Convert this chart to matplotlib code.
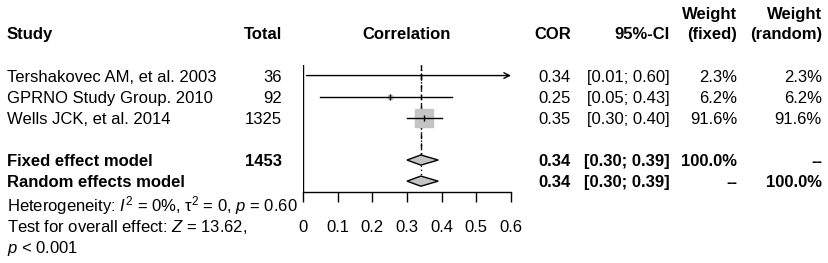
import numpy as np
import matplotlib
matplotlib.use('Agg')
import matplotlib.pyplot as plt
from matplotlib import transforms

plt.rcParams['font.family'] = ['Liberation Sans', 'DejaVu Sans']
plt.rcParams['mathtext.fontset'] = 'custom'
plt.rcParams['mathtext.rm'] = 'Liberation Sans'
plt.rcParams['mathtext.it'] = 'Liberation Sans:italic'
plt.rcParams['mathtext.bf'] = 'Liberation Sans:bold'

# Study data
studies = ["Tershakovec AM, et al. 2003", "GPRNO Study Group. 2010", "Wells JCK, et al. 2014"]
totals = [36, 92, 1325]
cor = [0.34, 0.25, 0.35]
ci_lo = [0.01, 0.05, 0.30]
ci_hi = [0.60, 0.43, 0.40]
w_fixed = [2.3, 6.2, 91.6]
w_random = [2.3, 6.2, 91.6]

# Pooled estimates
fixed_total = 1453
fixed_est, fixed_lo, fixed_hi = 0.34, 0.30, 0.39
random_est, random_lo, random_hi = 0.34, 0.30, 0.39

x_ticks = [0, 0.1, 0.2, 0.3, 0.4, 0.5, 0.6]

W, H = 829, 263
fig = plt.figure(figsize=(W / 100, H / 100), dpi=100)

# forest panel
ax_left, ax_right = 303 / W, 511 / W
ax_top, ax_bot = 1 - 65 / H, 1 - 191.7 / H
ax = fig.add_axes([ax_left, ax_bot, ax_right - ax_left, ax_top - ax_bot])
ax.set_xlim(0, 0.6)
ax.set_ylim(5.5, -0.5)
for s in ['top', 'right', 'left']:
    ax.spines[s].set_visible(False)
ax.spines['bottom'].set_linewidth(1)
ax.set_yticks([])
ax.set_xticks(x_ticks)
ax.set_xticklabels([f"{t:g}" for t in x_ticks])
ax.tick_params(axis='x', direction='out', length=7.5, width=1, pad=13, labelsize=12)
ax.patch.set_alpha(0)

rows = np.arange(len(studies))
fixed_row = len(studies) + 1
random_row = fixed_row + 1

# null line
ax.axvline(0, color='black', lw=1)
# pooled lines
ax.plot([fixed_est, fixed_est], [-0.5, fixed_row - 0.25], color='black', lw=1, ls=(0, (4, 3)))
ax.plot([random_est, random_est], [-0.5, random_row - 0.25], color='black', lw=1, ls=(0, (1, 2)))

xmax = ax.get_xlim()[1]
for i in rows:
    sq = 13 * np.sqrt(w_fixed[i] / max(w_fixed))
    ax.plot(cor[i], i, marker='s', ms=sq, color='#c4c4c4', mec='#c4c4c4', zorder=3)
    if ci_hi[i] >= xmax:
        ax.annotate('', xy=(xmax, i), xytext=(ci_lo[i], i),
                    arrowprops=dict(arrowstyle='->', lw=1, color='black',
                                    shrinkA=0, shrinkB=0, mutation_scale=10),
                    zorder=4)
    else:
        ax.plot([ci_lo[i], ci_hi[i]], [i, i], color='black', lw=1, zorder=4)
    ax.plot(cor[i], i, marker='|', ms=4, mew=1, color='black', zorder=5)


def diamond(est, lo, hi, y, h=0.24):
    ax.fill([lo, est, hi, est, lo], [y, y - h, y, y + h, y],
            facecolor='#c4c4c4', edgecolor='black', lw=1, zorder=5)


diamond(fixed_est, fixed_lo, fixed_hi, fixed_row)
diamond(random_est, random_lo, random_hi, random_row)

# text columns
tr = transforms.blended_transform_factory(fig.transFigure, ax.transData)
fs = 12
x_study = 7 / W
x_total = 282 / W
x_cor = 571 / W
x_ci = 670 / W
x_wf = 737.5 / W
x_wr = 822 / W


def put(x, y, s, ha='right', bold=False):
    fig.text(x, y, s, transform=tr, ha=ha, va='center_baseline', fontsize=fs,
             fontweight='bold' if bold else 'normal')


hdr = -2
put(x_study, hdr, "Study", ha='left', bold=True)
put(x_total, hdr, "Total", bold=True)
ax.text(0.5, hdr, "Correlation", transform=transforms.blended_transform_factory(ax.transAxes, ax.transData),
        ha='center', va='center_baseline', fontsize=fs, fontweight='bold')
put(x_cor, hdr, "COR", bold=True)
put(x_ci, hdr, "95%-CI", bold=True)
put(x_wf, hdr - 0.97, "Weight", bold=True)
put(x_wf, hdr, "(fixed)", bold=True)
put(x_wr, hdr - 0.97, "Weight", bold=True)
put(x_wr, hdr, "(random)", bold=True)

for i in rows:
    put(x_study, i, studies[i], ha='left')
    put(x_total, i, f"{totals[i]}")
    put(x_cor, i, f"{cor[i]:.2f}")
    put(x_ci, i, f"[{ci_lo[i]:.2f}; {ci_hi[i]:.2f}]")
    put(x_wf, i, f"{w_fixed[i]:.1f}%")
    put(x_wr, i, f"{w_random[i]:.1f}%")

put(x_study, fixed_row, "Fixed effect model", ha='left', bold=True)
put(x_total, fixed_row, f"{fixed_total}", bold=True)
put(x_cor, fixed_row, f"{fixed_est:.2f}", bold=True)
put(x_ci, fixed_row, f"[{fixed_lo:.2f}; {fixed_hi:.2f}]", bold=True)
put(x_wf, fixed_row, "100.0%", bold=True)
put(x_wr, fixed_row, "--", bold=True)

put(x_study, random_row, "Random effects model", ha='left', bold=True)
put(x_cor, random_row, f"{random_est:.2f}", bold=True)
put(x_ci, random_row, f"[{random_lo:.2f}; {random_hi:.2f}]", bold=True)
put(x_wf, random_row, "--", bold=True)
put(x_wr, random_row, "100.0%", bold=True)

put(x_study, random_row + 1.02, r"Heterogeneity: $I^2$ = 0%, τ$^2$ = 0, $p$ = 0.60", ha='left')
put(x_study, random_row + 2.08, r"Test for overall effect: $Z$ = 13.62,", ha='left')
put(x_study, random_row + 3.05, r"$p$ < 0.001", ha='left')

fig.savefig('out.png', dpi=100)
